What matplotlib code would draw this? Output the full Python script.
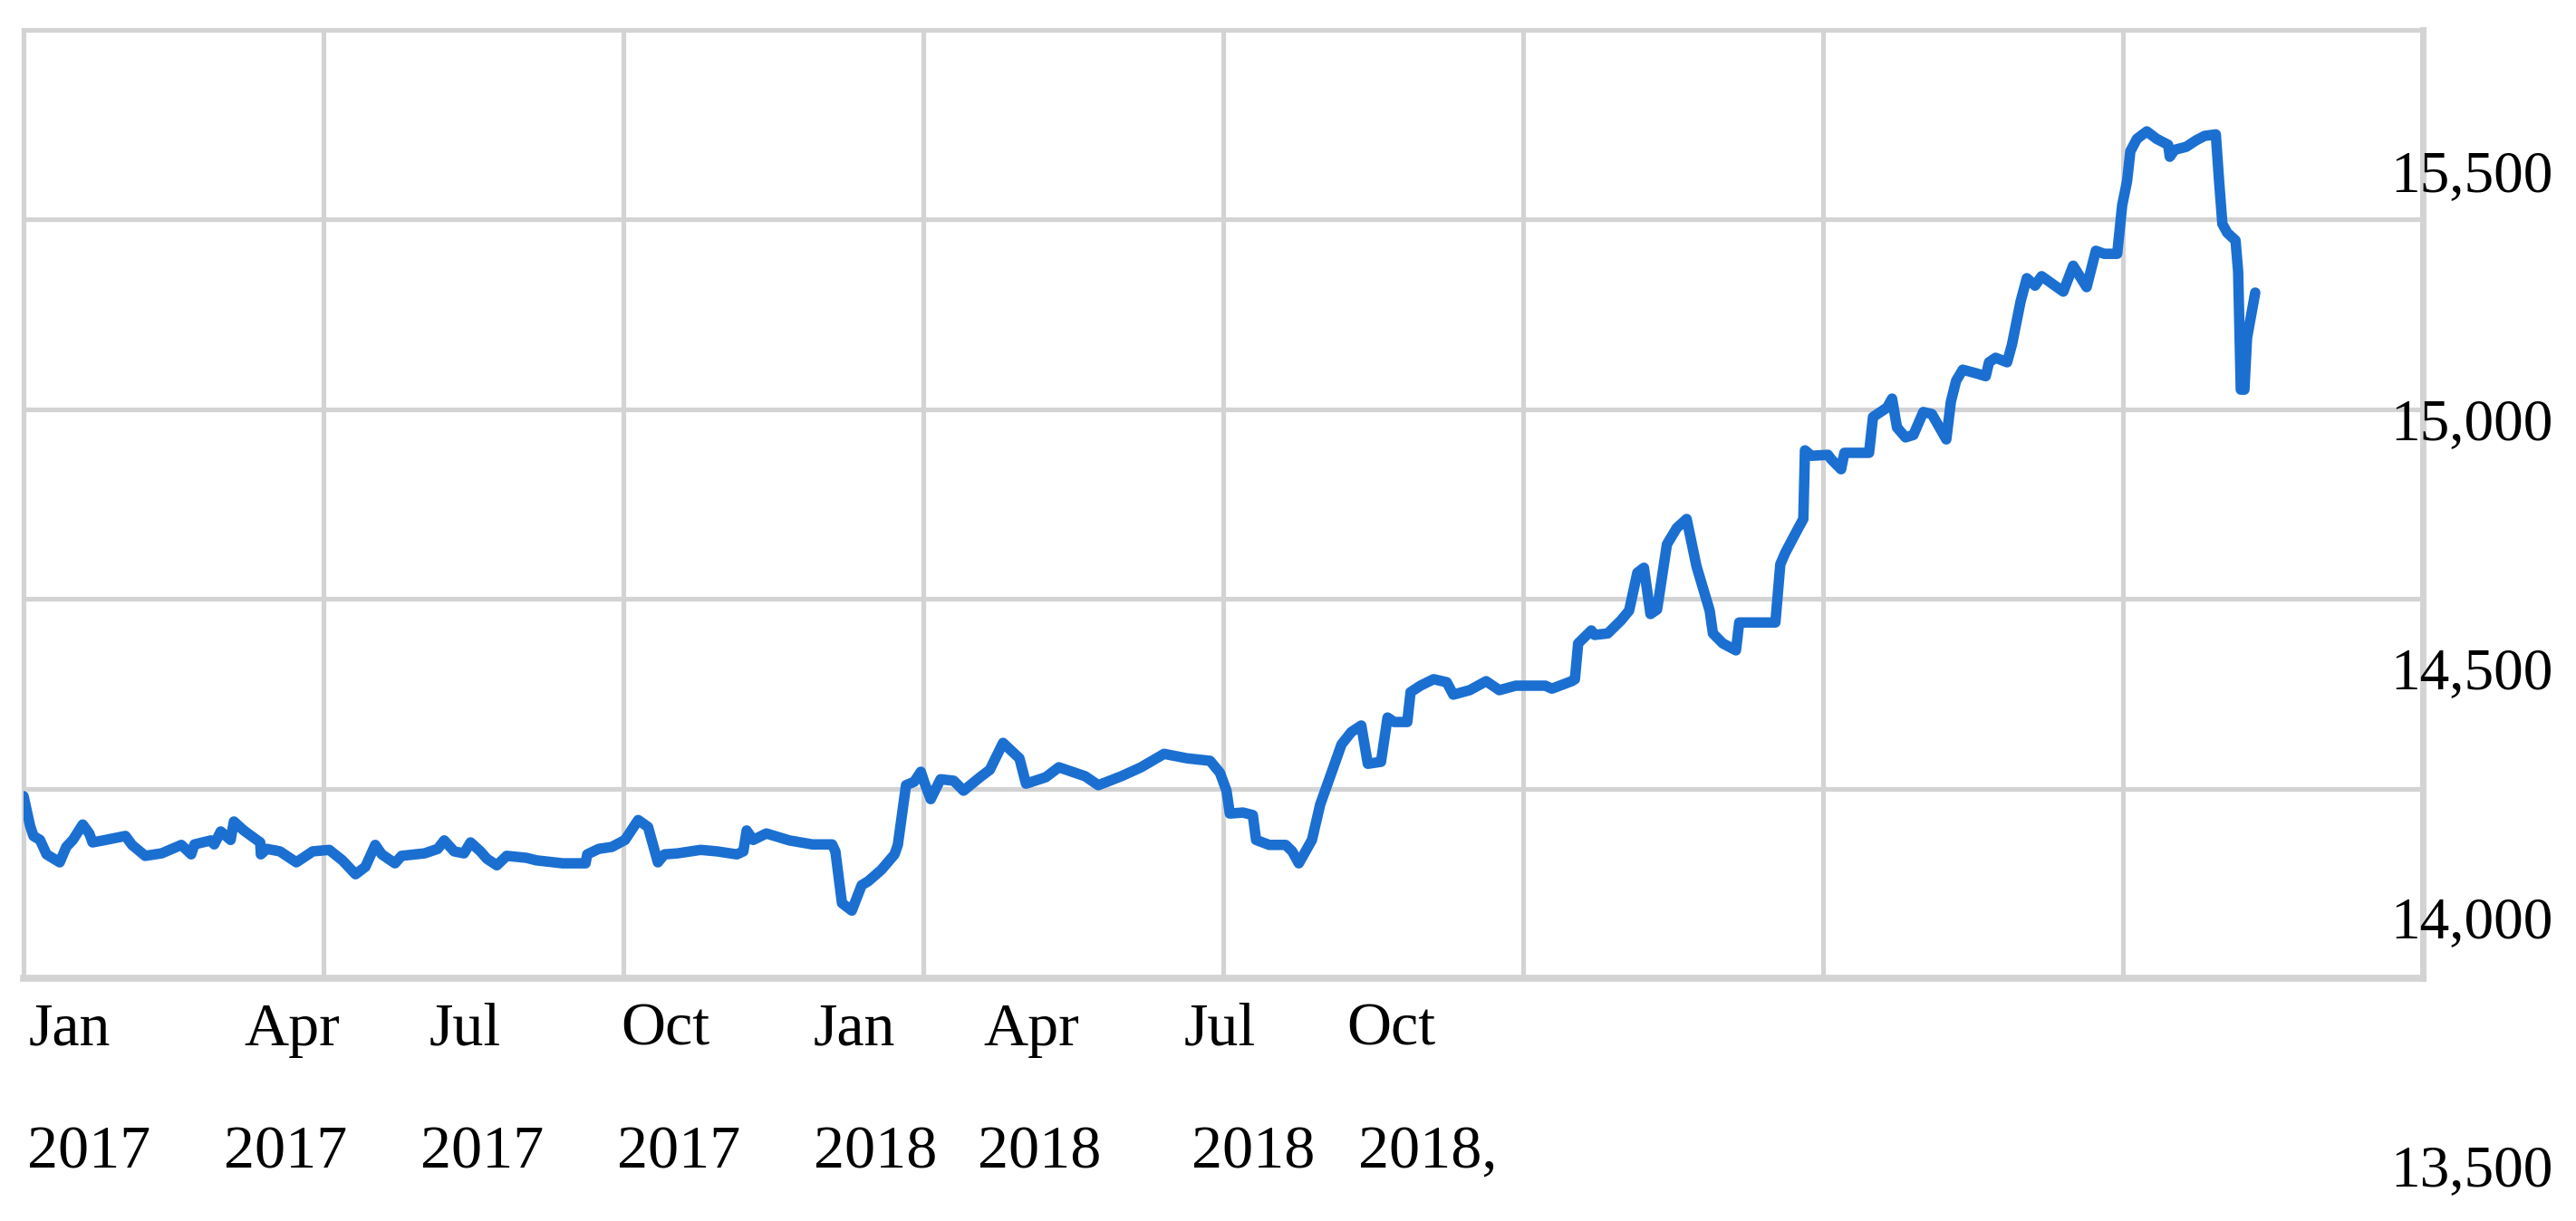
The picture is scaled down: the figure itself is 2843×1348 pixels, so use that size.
import numpy as np
import pandas as pd
import matplotlib
matplotlib.use("Agg")
import matplotlib.pyplot as plt
import matplotlib.dates as mdates
import matplotlib.transforms as mtransforms

# ---------------- data ----------------
start_date = "2017-01-01"
end_date = "2019-01-01"

day_offsets = [
    0, 2, 3, 5, 7, 11, 13, 15, 18, 20, 21, 25, 31, 33, 37, 42, 48, 51, 52, 57,
    58, 60, 63, 64, 67, 72, 72.2, 74, 78, 83, 88, 93, 97, 101, 104, 107, 109, 113, 115, 122,
    126, 128, 131, 134, 136, 139, 141, 144, 147, 153, 156, 164, 171, 171.5, 175, 179, 183, 187, 190, 193,
    195, 199, 206, 211, 217, 219, 220, 222, 226, 233, 240, 246, 247, 249, 252, 255, 257, 261, 265, 266,
    268.5, 271, 273, 274, 276, 279, 283, 286, 291, 294, 298, 303, 305, 311, 315, 323, 327, 334, 340, 347,
    354, 361, 364, 366, 367, 371, 374, 375, 379, 384, 386, 388, 392, 394.5, 401, 404, 407, 409, 413, 415,
    417, 421, 422, 425, 429, 433, 435, 440, 445, 449, 454, 463, 465, 471, 472, 473, 477, 478, 482, 486,
    488.5, 491, 493, 495, 497, 500, 503, 506, 509, 513, 514, 517, 521, 522, 533, 534.5, 536, 540, 541.5, 542,
    544, 549, 550, 553, 554, 561.5, 562.7, 567, 568.5, 570, 572.6, 575, 578, 580.6, 585, 586.4, 588, 590, 594, 597,
    598, 600, 603.5, 605, 607.6, 609.5, 612, 614, 620.6, 623.6, 627.7, 630.5, 633, 637, 638.5, 640, 641, 643, 646, 649,
    652.5, 653, 654.5, 658, 661, 663.6, 667, 668, 669, 670.5, 673, 673.8, 674.6, 675.7, 676.5, 679,
]

rate = [
    14255, 14195, 14175, 14167, 14138, 14122, 14153, 14167, 14198, 14180, 14162, 14167, 14175, 14157, 14135, 14140, 14157, 14138, 14158, 14166,
    14158, 14184, 14167, 14204, 14186, 14162, 14138, 14149, 14144, 14122, 14144, 14147, 14126, 14098, 14113, 14157, 14138, 14120, 14135, 14140,
    14149, 14166, 14144, 14140, 14162, 14144, 14129, 14116, 14135, 14131, 14126, 14120, 14120, 14138, 14149, 14153, 14167, 14207, 14193, 14122,
    14138, 14140, 14147, 14144, 14138, 14144, 14186, 14167, 14180, 14166, 14158, 14158, 14144, 14040, 14025, 14076, 14084, 14107, 14138, 14157,
    14277, 14284, 14304, 14284, 14249, 14289, 14286, 14266, 14293, 14308, 14362, 14331, 14280, 14293, 14313, 14295, 14277, 14295, 14313, 14340,
    14331, 14326, 14302, 14266, 14220, 14222, 14217, 14167, 14157, 14157, 14144, 14120, 14167, 14238, 14359, 14384, 14397, 14320, 14324, 14413,
    14404, 14404, 14464, 14477, 14490, 14484, 14459, 14468, 14486, 14468, 14477, 14477, 14471, 14486, 14490, 14562, 14588, 14579, 14582, 14608,
    14628, 14704, 14714, 14621, 14630, 14761, 14794, 14812, 14717, 14628, 14582, 14562, 14548, 14604, 14604, 14721, 14744, 14794, 14812, 14950,
    14939, 14941, 14932, 14912, 14945, 14945, 15017, 15036, 15054, 14996, 14976, 14981, 15027, 15023, 14972, 15048, 15090, 15112, 15105, 15099,
    15127, 15136, 15127, 15163, 15249, 15296, 15281, 15300, 15269, 15321, 15278, 15351, 15345, 15345, 15442, 15491, 15551, 15576, 15591, 15576,
    15564, 15540, 15554, 15560, 15573, 15582, 15585, 15491, 15405, 15387, 15372, 15309, 15072, 15072, 15176, 15267,
]

month_labels = ["Jan", "Apr", "Jul", "Oct", "Jan", "Apr", "Jul", "Oct"]
year_labels = ["2017", "2017", "2017", "2017", "2018", "2018", "2018", "2018,"]
y_label_values = [15500, 15000, 14500, 14000, 13500]

# ---------------- layout ----------------
W, H = 2843, 1348
month_left_px = [32, 269, 474, 685, 898, 1085, 1307, 1486]
year_left_px = [30, 247, 464, 681, 898, 1079, 1315, 1499]
month_baseline_px = 1154
year_baseline_px = 1289
ylabel_center_px = 2728
y_range = (13889, 15795)
n_vgrid, n_hgrid = 8, 5

line_color = "#1b6fd1"
grid_color = "#d3d3d3"
serif = ["Liberation Serif", "DejaVu Serif"]

fig = plt.figure(figsize=(W / 100, H / 100), dpi=100)
fig.patch.set_facecolor("white")
ax = fig.add_axes([26 / W, 1 - 1080 / H, (2674 - 26) / W, (1080 - 33) / H])

dates = pd.Timestamp(start_date) + pd.to_timedelta(day_offsets, unit="D")
ax.plot(dates, rate, color=line_color, lw=8.3, solid_joinstyle="round",
        solid_capstyle="round", zorder=3)

x0 = mdates.date2num(pd.Timestamp(start_date))
x1 = mdates.date2num(pd.Timestamp(end_date))
ax.set_xlim(x0, x1)
ax.set_ylim(*y_range)

ax.set_xticks(np.linspace(x0, x1, n_vgrid + 1)[1:-1], minor=True)
ax.set_yticks(np.linspace(y_range[0], y_range[1], n_hgrid + 1)[1:-1], minor=True)
ax.set_xticks([])
ax.set_yticks([])
ax.grid(which="minor", color=grid_color, lw=3.7)
ax.set_axisbelow(True)
ax.tick_params(which="both", length=0, labelbottom=False, labelleft=False)
for sp in ax.spines.values():
    sp.set_color(grid_color)
    sp.set_linewidth(3.7)
ax.spines["bottom"].set_linewidth(5.5)
ax.spines["right"].set_linewidth(5)

# x labels (two rows)
for lbl, px in zip(month_labels, month_left_px):
    fig.text(px / W, 1 - month_baseline_px / H, lbl, ha="left", va="baseline",
             fontsize=49, family=serif, color="black")
for lbl, px in zip(year_labels, year_left_px):
    fig.text(px / W, 1 - year_baseline_px / H, lbl, ha="left", va="baseline",
             fontsize=49, family=serif, color="black")

# y labels on the right
trans = mtransforms.blended_transform_factory(fig.transFigure, ax.transData)
for v in y_label_values:
    ax.text(ylabel_center_px / W, v, f"{v:,}", transform=trans, ha="center",
            va="center", fontsize=47, family=serif, color="black", clip_on=False)

fig.savefig("out.png", dpi=100, facecolor="white")
